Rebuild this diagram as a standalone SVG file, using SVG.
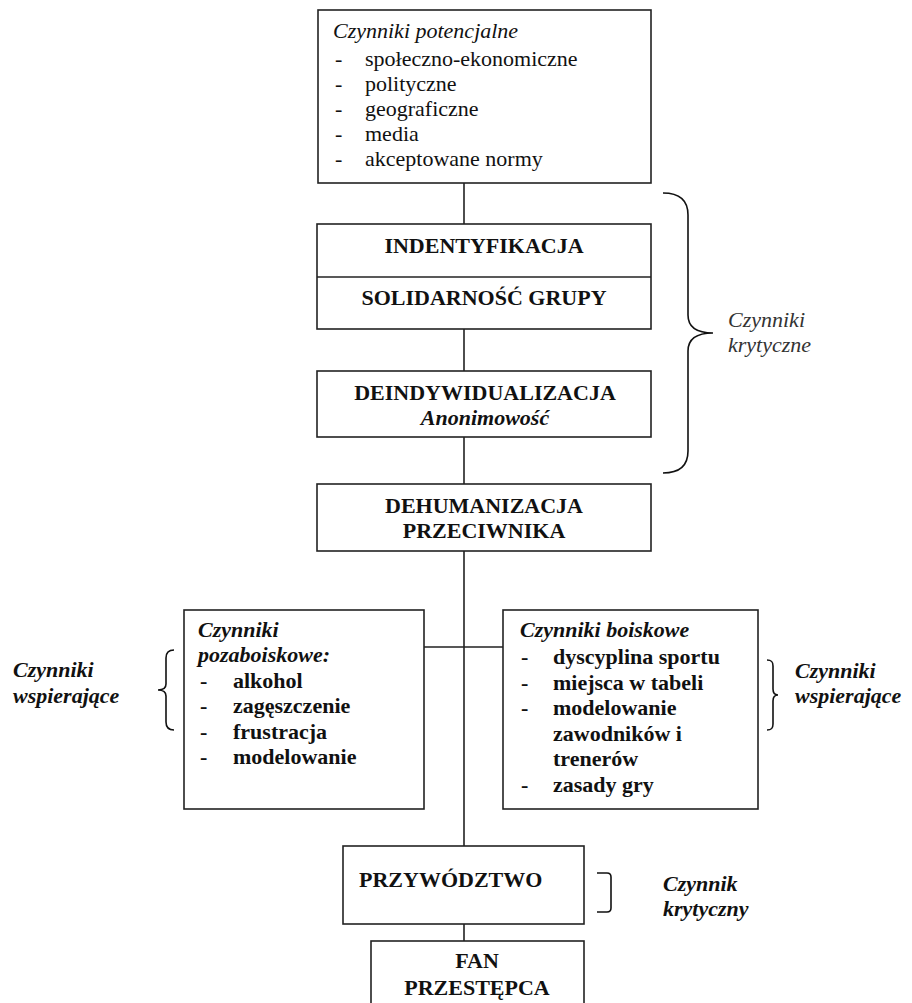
<svg xmlns="http://www.w3.org/2000/svg" width="912" height="1003" viewBox="0 0 912 1003">
<style>
.box{fill:#fff;stroke:#222;stroke-width:1.6}
.ln{fill:none;stroke:#222;stroke-width:1.6}
.br{fill:none;stroke:#111;stroke-width:1.6}
text{font-family:"Liberation Serif","Times New Roman",serif;font-size:22px;fill:#111}
.b{font-weight:bold}
.i{font-style:italic}
.bi{font-weight:bold;font-style:italic}
.c{text-anchor:middle}
.g{fill:#333}
</style>
<rect width="912" height="1003" fill="#fff"/>
<g id="connectors">
<path class="ln" d="M464,183V224M464,329V371M464,437V484M464,551V846M464,924V941M424,647H503"/>
</g>
<g id="potencjalne">
<rect class="box" x="318" y="10" width="333" height="173"/>
<text class="i" x="333" y="38">Czynniki potencjalne</text>
<text x="335" y="66">-</text><text x="365" y="66">społeczno-ekonomiczne</text>
<text x="335" y="91">-</text><text x="365" y="91">polityczne</text>
<text x="335" y="116">-</text><text x="365" y="116">geograficzne</text>
<text x="335" y="141">-</text><text x="365" y="141">media</text>
<text x="335" y="166">-</text><text x="365" y="166">akceptowane normy</text>
</g>
<g id="identyfikacja">
<rect class="box" x="317" y="224" width="334" height="105"/>
<line class="ln" x1="317" y1="277" x2="651" y2="277"/>
<text class="b c" x="484" y="253">INDENTYFIKACJA</text>
<text class="b c" x="484" y="305">SOLIDARNOŚĆ GRUPY</text>
</g>
<g id="deindywidualizacja">
<rect class="box" x="317" y="371" width="334" height="66"/>
<text class="b c" x="485" y="400">DEINDYWIDUALIZACJA</text>
<text class="bi c" x="485" y="425">Anonimowość</text>
</g>
<g id="krytyczne">
<path class="br" d="M663,193C680,193 688,200 688,215L688,315C688,328 698,333 713,333C698,333 688,338 688,351L688,451C688,466 680,473 663,473"/>
<text class="i g" x="728" y="327">Czynniki</text>
<text class="i g" x="728" y="352">krytyczne</text>
</g>
<g id="dehumanizacja">
<rect class="box" x="317" y="484" width="334" height="67"/>
<text class="b c" x="484" y="513">DEHUMANIZACJA</text>
<text class="b c" x="484" y="538">PRZECIWNIKA</text>
</g>
<g id="pozaboiskowe">
<rect class="box" x="184" y="610" width="240" height="199"/>
<text class="bi" x="198" y="637">Czynniki</text>
<text class="bi" x="198" y="662">pozaboiskowe:</text>
<text class="b" x="200" y="688">-</text><text class="b" x="233" y="688">alkohol</text>
<text class="b" x="200" y="713">-</text><text class="b" x="233" y="713">zagęszczenie</text>
<text class="b" x="200" y="739">-</text><text class="b" x="233" y="739">frustracja</text>
<text class="b" x="200" y="764">-</text><text class="b" x="233" y="764">modelowanie</text>
</g>
<g id="wspierajace-left">
<path class="br" d="M174,650C168,650 166,653 166,658L166,684C166,688 163,690 158,690C163,690 166,692 166,696L166,722C166,727 168,730 174,730"/>
<text class="bi" x="13" y="677">Czynniki</text>
<text class="bi" x="13" y="703">wspierające</text>
</g>
<g id="boiskowe">
<rect class="box" x="503" y="610" width="255" height="199"/>
<text class="bi" x="520" y="637">Czynniki boiskowe</text>
<text class="b" x="521" y="664">-</text><text class="b" x="553" y="664">dyscyplina sportu</text>
<text class="b" x="521" y="690">-</text><text class="b" x="553" y="690">miejsca w tabeli</text>
<text class="b" x="521" y="715">-</text><text class="b" x="553" y="715">modelowanie</text>
<text class="b" x="553" y="741">zawodników i</text>
<text class="b" x="553" y="766">trenerów</text>
<text class="b" x="521" y="792">-</text><text class="b" x="553" y="792">zasady gry</text>
</g>
<g id="wspierajace-right">
<path class="br" d="M767,660C772,660 773,662 773,666L773,689C773,693 775,695 778,695C775,695 773,697 773,701L773,724C773,728 772,730 767,730"/>
<text class="bi" x="795" y="678">Czynniki</text>
<text class="bi" x="795" y="703">wspierające</text>
</g>
<g id="przywodztwo">
<rect class="box" x="343" y="846" width="241" height="78"/>
<text class="b" x="359" y="887">PRZYWÓDZTWO</text>
</g>
<g id="krytyczny">
<path class="br" d="M597,873H607Q611,873 611,877V908Q611,912 607,912H597"/>
<text class="bi" x="663" y="891">Czynnik</text>
<text class="bi" x="663" y="916">krytyczny</text>
</g>
<g id="fan">
<rect class="box" x="371" y="941" width="213" height="80"/>
<text class="b c" x="477" y="968">FAN</text>
<text class="b c" x="477" y="995">PRZESTĘPCA</text>
</g>
</svg>
